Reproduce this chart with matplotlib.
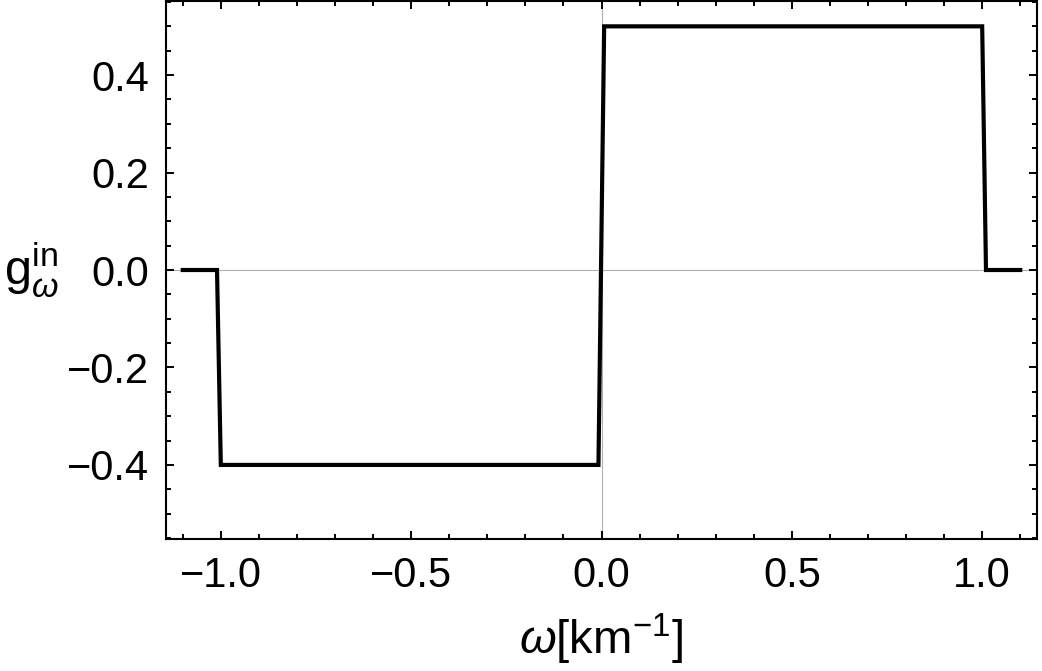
import matplotlib
matplotlib.use("Agg")
import matplotlib.pyplot as plt
from matplotlib.ticker import MultipleLocator, FixedLocator

plt.rcParams['font.family'] = ['Liberation Sans', 'DejaVu Sans']
plt.rcParams['mathtext.fontset'] = 'custom'
plt.rcParams['mathtext.rm'] = 'Liberation Sans'
plt.rcParams['mathtext.it'] = 'Liberation Sans:italic'
plt.rcParams['mathtext.bf'] = 'Liberation Sans:bold'

# data (sampled step function)
omega = [-1.1, -1.01, -1.0, -0.008, 0.007, 1.0, 1.01, 1.1]
g_in = [0.0, 0.0, -0.4, -0.4, 0.5, 0.5, 0.0, 0.0]

xticks = [-1.0, -0.5, 0.0, 0.5, 1.0]
yticks = [-0.4, -0.2, 0.0, 0.2, 0.4]

fig = plt.figure(figsize=(10.42, 6.71), dpi=100)
ax = fig.add_axes([166/1042, 1-539/671, (1037-166)/1042, 538/671])

ax.axhline(0, color='#b0b0b0', lw=0.8, zorder=1)
ax.axvline(0, color='#b0b0b0', lw=0.8, zorder=1)
ax.plot(omega, g_in, color='black', lw=3.0, solid_joinstyle='miter', zorder=3)

ax.set_xlim(-1.144, 1.144)
ax.set_ylim(-0.552, 0.552)

ax.xaxis.set_major_locator(FixedLocator(xticks))
ax.yaxis.set_major_locator(FixedLocator(yticks))
ax.xaxis.set_minor_locator(MultipleLocator(0.1))
ax.yaxis.set_minor_locator(MultipleLocator(0.05))
ax.set_xticklabels([f"{t:.1f}".replace('-', '\u2212') for t in xticks])
ax.set_yticklabels([f"{t:.1f}".replace('-', '\u2212') for t in yticks])

ax.tick_params(which='both', direction='in', top=True, right=True, width=1.4, color='black')
ax.tick_params(which='major', length=6.0, labelsize=30, pad=12)
ax.tick_params(which='minor', length=3.4)
for s in ax.spines.values():
    s.set_linewidth(1.5)

ax.set_xlabel(r'$\omega[\mathrm{km}^{-1}]$', fontsize=34, labelpad=12)
ax.set_ylabel(r'$\mathrm{g}_{\omega}^{\mathrm{in}}$', fontsize=35, rotation=0, labelpad=26, va='center')

fig.savefig('out.png', dpi=100)
